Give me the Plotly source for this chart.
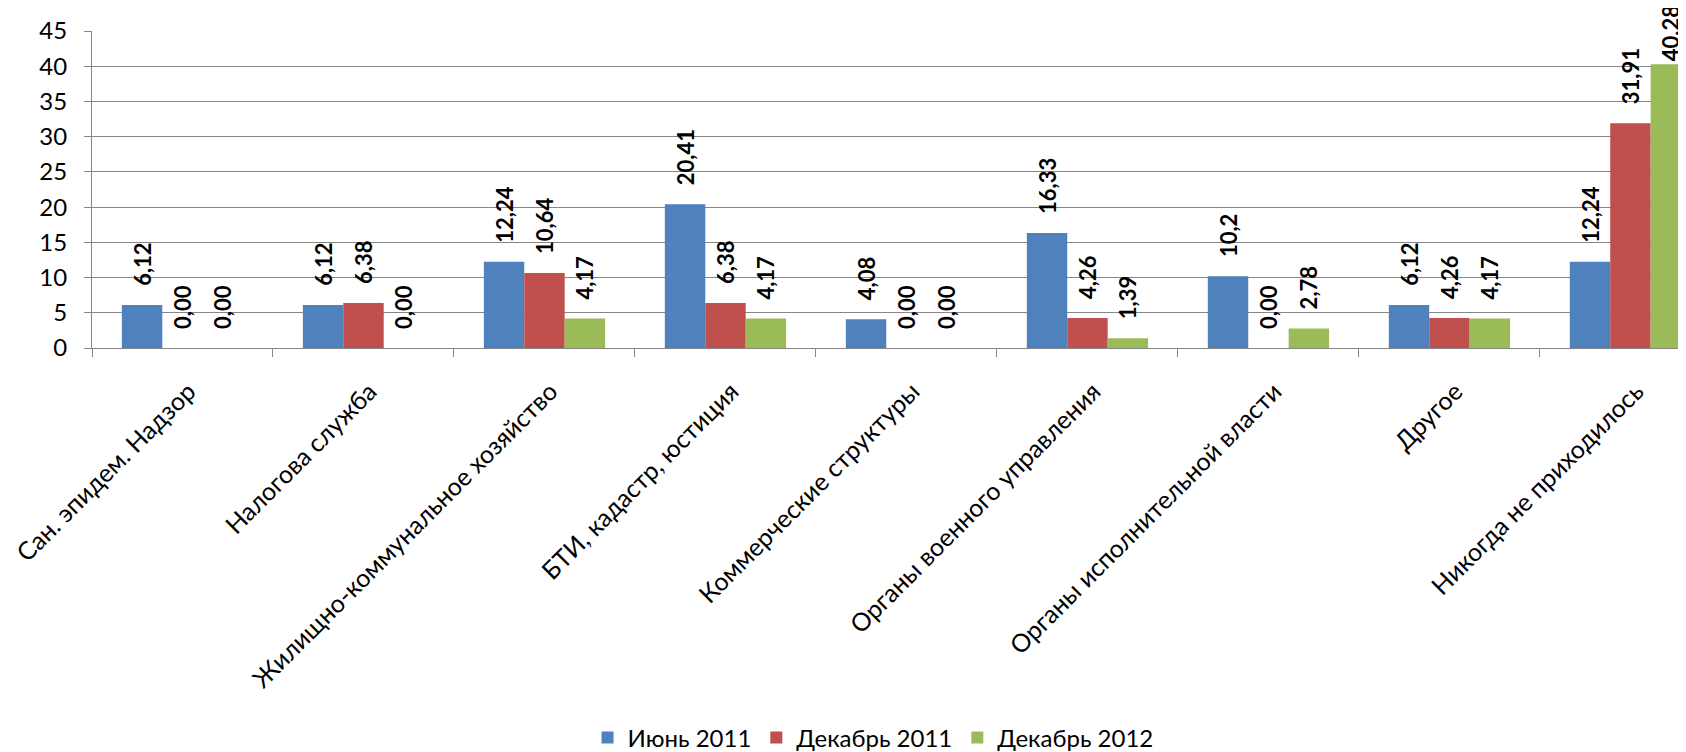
import plotly.graph_objects as go

# Categories and series
categories = [
    "Сан. эпидем. Надзор",
    "Налогова служба",
    "Жилищно-коммунальное хозяйство",
    "БТИ, кадастр, юстиция",
    "Коммерческие структуры",
    "Органы военного управления",
    "Органы исполнительной власти",
    "Другое",
    "Никогда не приходилось",
]

june_2011 = [6.12, 6.12, 12.24, 20.41, 4.08, 16.33, 10.2, 6.12, 12.24]
dec_2011 = [0.00, 6.38, 10.64, 6.38, 0.00, 4.26, 0.00, 4.26, 31.91]
dec_2012 = [0.00, 0.00, 4.17, 4.17, 0.00, 1.39, 2.78, 4.17, 40.28]

june_2011_labels = ["6,12", "6,12", "12,24", "20,41", "4,08", "16,33", "10,2", "6,12", "12,24"]
dec_2011_labels = ["0,00", "6,38", "10,64", "6,38", "0,00", "4,26", "0,00", "4,26", "31,91"]
dec_2012_labels = ["0,00", "0,00", "4,17", "4,17", "0,00", "1,39", "2,78", "4,17", "40,28"]

series = [
    ("Июнь 2011", june_2011, june_2011_labels, "#4F81BD"),
    ("Декабрь 2011", dec_2011, dec_2011_labels, "#C0504D"),
    ("Декабрь 2012", dec_2012, dec_2012_labels, "#9BBB59"),
]

FONT = "Lato"
pad = "\u00a0\u00a0\u00a0"

fig = go.Figure()
for name, vals, labels, color in series:
    # the tallest bar has no room above it, so its label hugs the bar
    templates = [("" if v > 40 else pad) + "%{text}" for v in vals]
    fig.add_trace(go.Bar(
        name=name,
        x=categories,
        y=vals,
        text=labels,
        texttemplate=templates,
        textposition="outside",
        textangle=-90,
        constraintext="none",
        cliponaxis=False,
        textfont=dict(family=FONT, size=22, color="#000000", weight="bold"),
        marker=dict(color=color, line=dict(width=0)),
    ))

# page body adds an 8px offset, so the figure is 8px smaller than the window
fig.update_layout(
    width=1678,
    height=744,
    barmode="group",
    bargap=0.33,
    bargroupgap=0,
    plot_bgcolor="white",
    paper_bgcolor="white",
    font=dict(family=FONT, size=24, color="#000000"),
    margin=dict(l=84, r=0, t=23, b=404, autoexpand=False),
    legend=dict(
        orientation="h",
        x=0.49,
        xanchor="center",
        y=-1.23,
        yanchor="middle",
        font=dict(family=FONT, size=24),
    ),
    showlegend=True,
)

fig.update_xaxes(
    range=[-0.5, 8.307],
    tickangle=-45,
    tickson="boundaries",
    ticks="outside",
    ticklen=8,
    tickcolor="#868686",
    showline=True,
    linecolor="#868686",
    linewidth=1,
    showgrid=False,
    ticklabelstandoff=18,
    ticklabelshift=6,
    tickfont=dict(family=FONT, size=25),
)

fig.update_yaxes(
    range=[0, 45],
    dtick=5,
    showgrid=True,
    gridcolor="#868686",
    gridwidth=1,
    showline=True,
    linecolor="#868686",
    ticks="outside",
    ticklen=7,
    tickcolor="#868686",
    zeroline=False,
    ticklabelstandoff=12,
    tickfont=dict(family=FONT, size=24),
)

fig.write_html("out.html")
